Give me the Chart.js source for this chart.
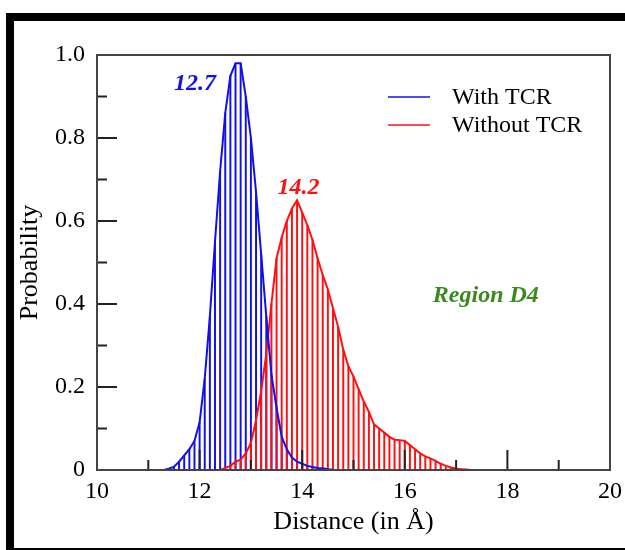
<!DOCTYPE html>
<html>
<head>
<meta charset="utf-8">
<script src="https://cdn.jsdelivr.net/npm/chart.js@4.4.1/dist/chart.umd.min.js"></script>
<style>
  body { margin: 0; background: #fff; }
  #wrap { position: relative; width: 625px; height: 550px; overflow: hidden; }
  #frame {
    position: absolute; left: 6px; top: 13px; width: 700px; height: 527px;
    border-left: 8px solid #000; border-top: 8px solid #000; border-bottom: 2px solid #000;
    pointer-events: none;
  }
</style>
</head>
<body>
<div id="wrap">
  <canvas id="chart" width="625" height="550"></canvas>
  <div id="frame"></div>
</div>
<script>
// Distance bins (in Å) and probabilities
const withX = [11.3, 11.4, 11.5, 11.6, 11.7, 11.8, 11.9, 12.0, 12.1, 12.2, 12.3, 12.4, 12.5, 12.6, 12.7, 12.8,
  12.9, 13.0, 13.1, 13.2, 13.3, 13.4, 13.5, 13.6, 13.7, 13.8, 13.9, 14.0, 14.1, 14.2, 14.3, 14.4, 14.5, 14.6];
const withP = [0.0, 0.003, 0.008, 0.02, 0.035, 0.05, 0.07, 0.115, 0.22, 0.37, 0.55, 0.72, 0.86, 0.95, 0.98, 0.98,
  0.90, 0.80, 0.67, 0.52, 0.37, 0.23, 0.15, 0.08, 0.05, 0.03, 0.02, 0.015, 0.01, 0.007, 0.005, 0.004, 0.002, 0.001];

const withoutX = [12.4, 12.5, 12.6, 12.7, 12.8, 12.9, 13.0, 13.1, 13.2, 13.3, 13.4, 13.5, 13.6, 13.7, 13.8, 13.9,
  14.0, 14.1, 14.2, 14.3, 14.4, 14.5, 14.6, 14.7, 14.8, 14.9, 15.0, 15.1, 15.2, 15.3, 15.4, 15.5, 15.6, 15.7,
  15.8, 15.9, 16.0, 16.1, 16.2, 16.3, 16.4, 16.5, 16.6, 16.7, 16.8, 16.9, 17.0, 17.1, 17.2, 17.3];
const withoutP = [0.0, 0.005, 0.01, 0.02, 0.025, 0.04, 0.065, 0.12, 0.19, 0.28, 0.40, 0.51, 0.56, 0.60, 0.63, 0.65,
  0.62, 0.59, 0.555, 0.51, 0.47, 0.435, 0.39, 0.345, 0.29, 0.25, 0.225, 0.195, 0.165, 0.14, 0.11, 0.10, 0.09, 0.08,
  0.073, 0.072, 0.07, 0.06, 0.05, 0.04, 0.033, 0.028, 0.022, 0.015, 0.01, 0.006, 0.003, 0.002, 0.001, 0.0];

// Text annotations: [text, x, y]
const peakLabels = [['12.7', 11.91, 0.93], ['14.2', 13.93, 0.68]];
const regionLabel = ['Region D4', 17.58, 0.42];

const BLUE = '#1010ee';
const RED = '#ff1010';
const GREEN = '#3a8a1c';
const SERIF = '"Liberation Serif", "Times New Roman", serif';

const pts = (xs, ys) => xs.map((x, i) => ({ x: x, y: ys[i] }));

// Inward tick marks, box, legend and labels
const decorPlugin = {
  id: 'decor',
  afterDatasetsDraw(chart) {
    const ctx = chart.ctx;
    const a = chart.chartArea;
    const xs = chart.scales.x, ys = chart.scales.y;
    ctx.save();

    // ticks
    ctx.strokeStyle = '#222';
    ctx.lineWidth = 2;
    const xt = xs.ticks.map(t => t.value);
    xt.forEach((v, i) => {
      const px = xs.getPixelForValue(v);
      ctx.beginPath(); ctx.moveTo(px, a.bottom); ctx.lineTo(px, a.bottom - 20); ctx.stroke();
      if (i < xt.length - 1) {
        const mx = xs.getPixelForValue((v + xt[i + 1]) / 2);
        ctx.beginPath(); ctx.moveTo(mx, a.bottom); ctx.lineTo(mx, a.bottom - 10); ctx.stroke();
      }
    });
    const yt = ys.ticks.map(t => t.value);
    yt.forEach((v, i) => {
      const py = ys.getPixelForValue(v);
      ctx.beginPath(); ctx.moveTo(a.left, py); ctx.lineTo(a.left + 20, py); ctx.stroke();
      if (i < yt.length - 1) {
        const my = ys.getPixelForValue((v + yt[i + 1]) / 2);
        ctx.beginPath(); ctx.moveTo(a.left, my); ctx.lineTo(a.left + 10, my); ctx.stroke();
      }
    });

    // box
    ctx.strokeStyle = '#444';
    ctx.lineWidth = 2;
    ctx.strokeRect(a.left, a.top, a.right - a.left, a.bottom - a.top);

    // legend
    const lines = chart.data.datasets.filter(d => d.type === 'line');
    ctx.font = '24px ' + SERIF;
    ctx.textBaseline = 'middle';
    ctx.textAlign = 'left';
    lines.forEach((d, i) => {
      const y = 97 + i * 28;
      ctx.strokeStyle = d.borderColor;
      ctx.lineWidth = 1.5;
      ctx.beginPath(); ctx.moveTo(388, y); ctx.lineTo(430, y); ctx.stroke();
      ctx.fillStyle = '#000';
      ctx.fillText(d.label, 452, y + 1);
    });

    // annotations
    ctx.font = 'italic bold 24px ' + SERIF;
    ctx.textAlign = 'center';
    [BLUE, RED].forEach((c, i) => {
      const l = peakLabels[i];
      ctx.fillStyle = c;
      ctx.fillText(l[0], xs.getPixelForValue(l[1]), ys.getPixelForValue(l[2]));
    });
    ctx.fillStyle = GREEN;
    ctx.fillText(regionLabel[0], xs.getPixelForValue(regionLabel[1]), ys.getPixelForValue(regionLabel[2]));

    ctx.restore();
  }
};

new Chart(document.getElementById('chart'), {
  type: 'bar',
  data: {
    datasets: [
      { type: 'line', label: 'With TCR', data: pts(withX, withP), borderColor: BLUE, borderWidth: 2,
        pointRadius: 0, tension: 0, order: 0 },
      { type: 'line', label: 'Without TCR', data: pts(withoutX, withoutP), borderColor: RED, borderWidth: 2,
        pointRadius: 0, tension: 0, order: 1 },
      { type: 'bar', label: 'with-bars', data: pts(withX, withP), backgroundColor: BLUE,
        barThickness: 1.3, grouped: false, order: 3 },
      { type: 'bar', label: 'without-bars', data: pts(withoutX, withoutP), backgroundColor: RED,
        barThickness: 1.3, grouped: false, order: 2 }
    ]
  },
  options: {
    responsive: false,
    animation: false,
    layout: { padding: { left: 0, right: 15, top: 55, bottom: 0 } },
    plugins: { legend: { display: false }, tooltip: { enabled: false } },
    scales: {
      x: {
        type: 'linear', min: 10, max: 20, offset: false,
        grid: { display: false, drawTicks: false },
        border: { display: false },
        ticks: { stepSize: 2, padding: 7, color: '#000', font: { family: SERIF, size: 24 } },
        title: { display: true, text: 'Distance (in Å)', color: '#000', padding: { top: 0, bottom: 12 },
          font: { family: SERIF, size: 26 } },
        afterFit: s => { s.height = 80; s.paddingLeft = 0; s.paddingRight = 0; }
      },
      y: {
        type: 'linear', min: 0, max: 1,
        grid: { display: false, drawTicks: false },
        border: { display: false },
        ticks: { stepSize: 0.2, padding: 12, color: '#000', font: { family: SERIF, size: 24 },
          callback: v => v === 0 ? '0' : v.toFixed(1) },
        title: { display: true, text: 'Probability', color: '#000', padding: { top: 15, bottom: 0 },
          font: { family: SERIF, size: 26 } },
        afterFit: s => { s.width = 97; s.paddingTop = 0; s.paddingBottom = 0; }
      }
    }
  },
  plugins: [decorPlugin]
});
</script>
</body>
</html>
